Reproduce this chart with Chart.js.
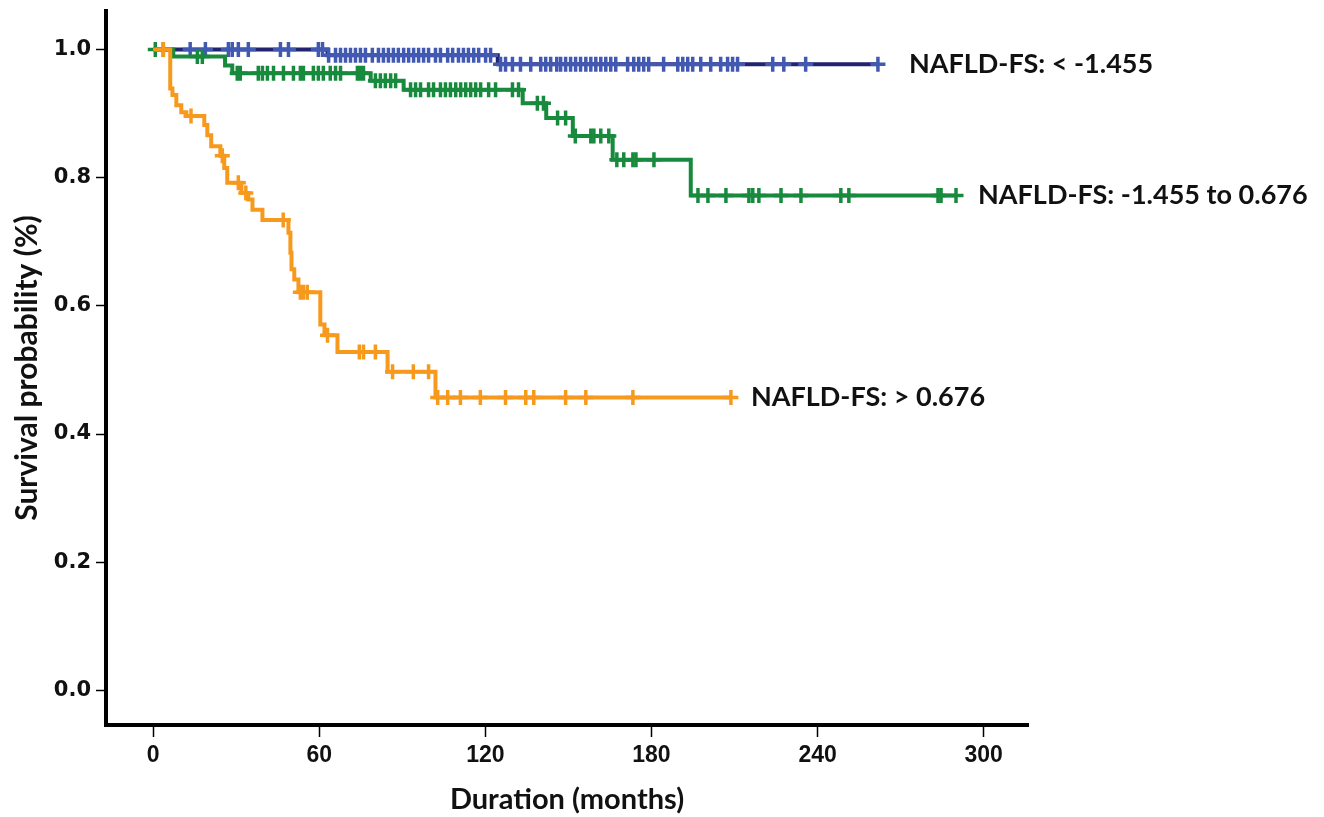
<!DOCTYPE html>
<html>
<head>
<meta charset="utf-8">
<script src="https://cdn.jsdelivr.net/npm/chart.js@4/dist/chart.umd.min.js"></script>
<style>
  html, body { margin: 0; padding: 0; background: #ffffff; }
  #wrap { width: 1324px; height: 817px; }
</style>
</head>
<body>
<div id="wrap"><canvas id="km" width="1324" height="817"></canvas></div>
<script>
// Kaplan-Meier survival by NAFLD fibrosis score group (time in months)
const xTicks = [0, 60, 120, 180, 240, 300];
const yTicks = [0, 0.2, 0.4, 0.6, 0.8, 1.0];

const groupLabels = ['NAFLD-FS: < -1.455', 'NAFLD-FS: -1.455 to 0.676', 'NAFLD-FS: > 0.676'];

// Low score group: event times and survival after each step
const lowTimes = [0, 63, 124.5, 261.8];
const lowSurv  = [1, 0.991, 0.977, 0.977];
const lowCensor = [3.7, 13.4, 18.9, 27.2, 28.6, 30.8, 34.4, 46, 48.9, 59.7, 61.2, 63.4, 65.9, 67.7,
  69.5, 71.3, 73.1, 74.9, 76.7, 79.2, 81.4, 83.2, 85, 86.8, 88.6, 90.5, 92.3, 94.1, 95.9, 97.7,
  99.5, 102, 103.8, 106.4, 108.2, 110.3, 112.1, 113.9, 115.8, 117.6, 120.1, 121.9, 125.5, 127.3,
  129.8, 132.7, 136.4, 140, 141.8, 143.6, 145.8, 147.2, 149, 150.8, 152.6, 154.4, 156.3, 158.1,
  159.9, 161.7, 163.5, 165.3, 167.1, 171.4, 173.6, 175.4, 177.2, 179, 184.4, 189.5, 191.3, 193.1,
  194.9, 197.8, 201.4, 205, 207.5, 209.3, 211.1, 223.8, 227.8, 235.7, 261.8];

// Intermediate score group
const midTimes = [0, 7.3, 26, 28.6, 78.6, 90.5, 133.5, 142, 151.6, 166, 194.2, 290];
const midSurv  = [1, 0.989, 0.975, 0.963, 0.951, 0.937, 0.916, 0.893, 0.865, 0.828, 0.772, 0.772];
const midCensor = [0.8, 16, 17.8, 30.4, 31.5, 38, 39.5, 41.3, 43.5, 47.1, 50.7, 53.2, 54.3, 57.9,
  59.7, 61.5, 64, 65.9, 67.7, 73.8, 74.9, 76, 80.3, 82.1, 83.9, 85.8, 87.6, 93, 94.8, 96.6, 99.5,
  101.3, 103.8, 105.6, 107.4, 109.3, 111.1, 112.9, 114.7, 116.5, 118.3, 121.2, 123.7, 129.8, 132,
  138.8, 141, 146.1, 149, 152.5, 158.1, 159.2, 161.7, 164.6, 167.5, 170, 173.3, 174.4, 180.9,
  196.8, 200.4, 206.9, 215.2, 216.6, 218.8, 226.8, 234, 248.4, 251.3, 283.5, 284.6, 290];

// High score group
const highTimes = [0, 6.2, 7, 8.4, 10.2, 12, 18.5, 19.6, 21, 24.3, 25.7, 26.8, 31.9, 34.4, 35.9,
  39.5, 48.9, 49.6, 50, 51, 52.5, 60.4, 61.9, 66.6, 84.7, 102, 208.7];
const highSurv  = [1, 0.939, 0.929, 0.913, 0.902, 0.896, 0.882, 0.866, 0.849, 0.834, 0.815, 0.792,
  0.776, 0.766, 0.750, 0.734, 0.714, 0.683, 0.657, 0.641, 0.621, 0.571, 0.554, 0.528, 0.497, 0.457, 0.457];
const highCensor = [3.7, 13.7, 25, 30.8, 33.5, 47, 53.2, 54.3, 55.7, 63, 74.5, 76, 80.3, 86.5, 94,
  99.5, 102.8, 106.4, 111, 118.2, 127.3, 134.6, 137.5, 149, 156.3, 173.3, 208.7];

const lineColors  = ['#22236f', '#188a3d', '#f7991d'];
const crossColors = ['#4259b1', '#188a3d', '#f7991d'];

function stepPoints(times, surv) {
  return times.map((t, i) => ({ x: t, y: surv[i] }));
}
// survival level in effect at time t (step function)
function survAt(times, surv, t) {
  let s = surv[0];
  for (let i = 0; i < times.length; i++) { if (times[i] <= t) s = surv[i]; }
  return s;
}
function censorPoints(times, surv, cens) {
  return cens.map(t => ({ x: t, y: survAt(times, surv, t) }));
}

const groups = [
  { times: lowTimes, surv: lowSurv, cens: lowCensor },
  { times: midTimes, surv: midSurv, cens: midCensor },
  { times: highTimes, surv: highSurv, cens: highCensor }
];

const datasets = [];
groups.forEach((g, i) => {
  datasets.push({
    type: 'line',
    data: stepPoints(g.times, g.surv),
    stepped: true,
    borderColor: lineColors[i],
    borderWidth: 4,
    pointRadius: 0,
    fill: false,
    order: 10 - i * 2
  });
  datasets.push({
    type: 'scatter',
    data: censorPoints(g.times, g.surv, g.cens),
    showLine: false,
    pointStyle: 'cross',
    pointRadius: 7.5,
    pointBorderWidth: 3.5,
    borderColor: crossColors[i],
    backgroundColor: crossColors[i],
    order: 9 - i * 2
  });
});

// group names written just past the end of each curve
const endLabels = {
  id: 'endLabels',
  afterDatasetsDraw(chart) {
    const { ctx, scales: { x, y } } = chart;
    const gaps = [31, 22, 20];
    ctx.save();
    ctx.font = 'bold 27px Lato, "Open Sans", sans-serif';
    ctx.fillStyle = '#111';
    ctx.textBaseline = 'middle';
    ctx.textAlign = 'left';
    groups.forEach((g, i) => {
      const n = g.times.length - 1;
      const px = x.getPixelForValue(g.times[n]) + gaps[i];
      const py = y.getPixelForValue(g.surv[n]);
      ctx.fillText(groupLabels[i], px, py);
    });
    ctx.restore();
  }
};

new Chart(document.getElementById('km'), {
  type: 'line',
  data: { datasets },
  options: {
    responsive: false,
    animation: false,
    events: [],
    layout: { padding: { left: 0, right: 296, top: 8, bottom: 0 } },
    plugins: { legend: { display: false }, tooltip: { enabled: false } },
    scales: {
      x: {
        type: 'linear',
        min: -17,
        max: 316,
        afterBuildTicks: s => { s.ticks = xTicks.map(v => ({ value: v })); },
        afterFit: s => { s.height = 92; },
        border: { display: true, color: '#000', width: 4 },
        grid: { display: true, drawOnChartArea: false, drawTicks: true, tickLength: 12, tickColor: '#000', tickWidth: 1.5 },
        ticks: {
          padding: 5,
          color: '#111',
          font: { family: '"Liberation Sans Narrow", "Liberation Sans", sans-serif', size: 23, weight: 'bold' },
          callback: v => String(v)
        },
        title: {
          display: true,
          text: 'Duration (months)',
          color: '#111',
          font: { family: 'Lato, "Open Sans", sans-serif', size: 29, weight: 'bold' },
          padding: { top: 0, bottom: 0 }
        }
      },
      y: {
        type: 'linear',
        min: -0.054,
        max: 1.06,
        afterBuildTicks: s => { s.ticks = yTicks.map(v => ({ value: v })); },
        afterFit: s => { s.width = 106; s.paddingTop = 0; s.paddingBottom = 0; },
        border: { display: true, color: '#000', width: 4 },
        grid: { display: true, drawOnChartArea: false, drawTicks: true, tickLength: 10, tickColor: '#000', tickWidth: 1.5 },
        ticks: {
          padding: 5,
          color: '#111',
          font: { family: '"DejaVu Sans", Verdana, sans-serif', size: 21, weight: 'bold' },
          callback: v => Number(v).toFixed(1)
        },
        title: {
          display: true,
          text: 'Survival probability (%)',
          color: '#111',
          font: { family: 'Lato, "Open Sans", sans-serif', size: 30, weight: 'bold' },
          padding: { top: 9, bottom: 0 }
        }
      }
    }
  },
  plugins: [endLabels]
});
</script>
</body>
</html>
